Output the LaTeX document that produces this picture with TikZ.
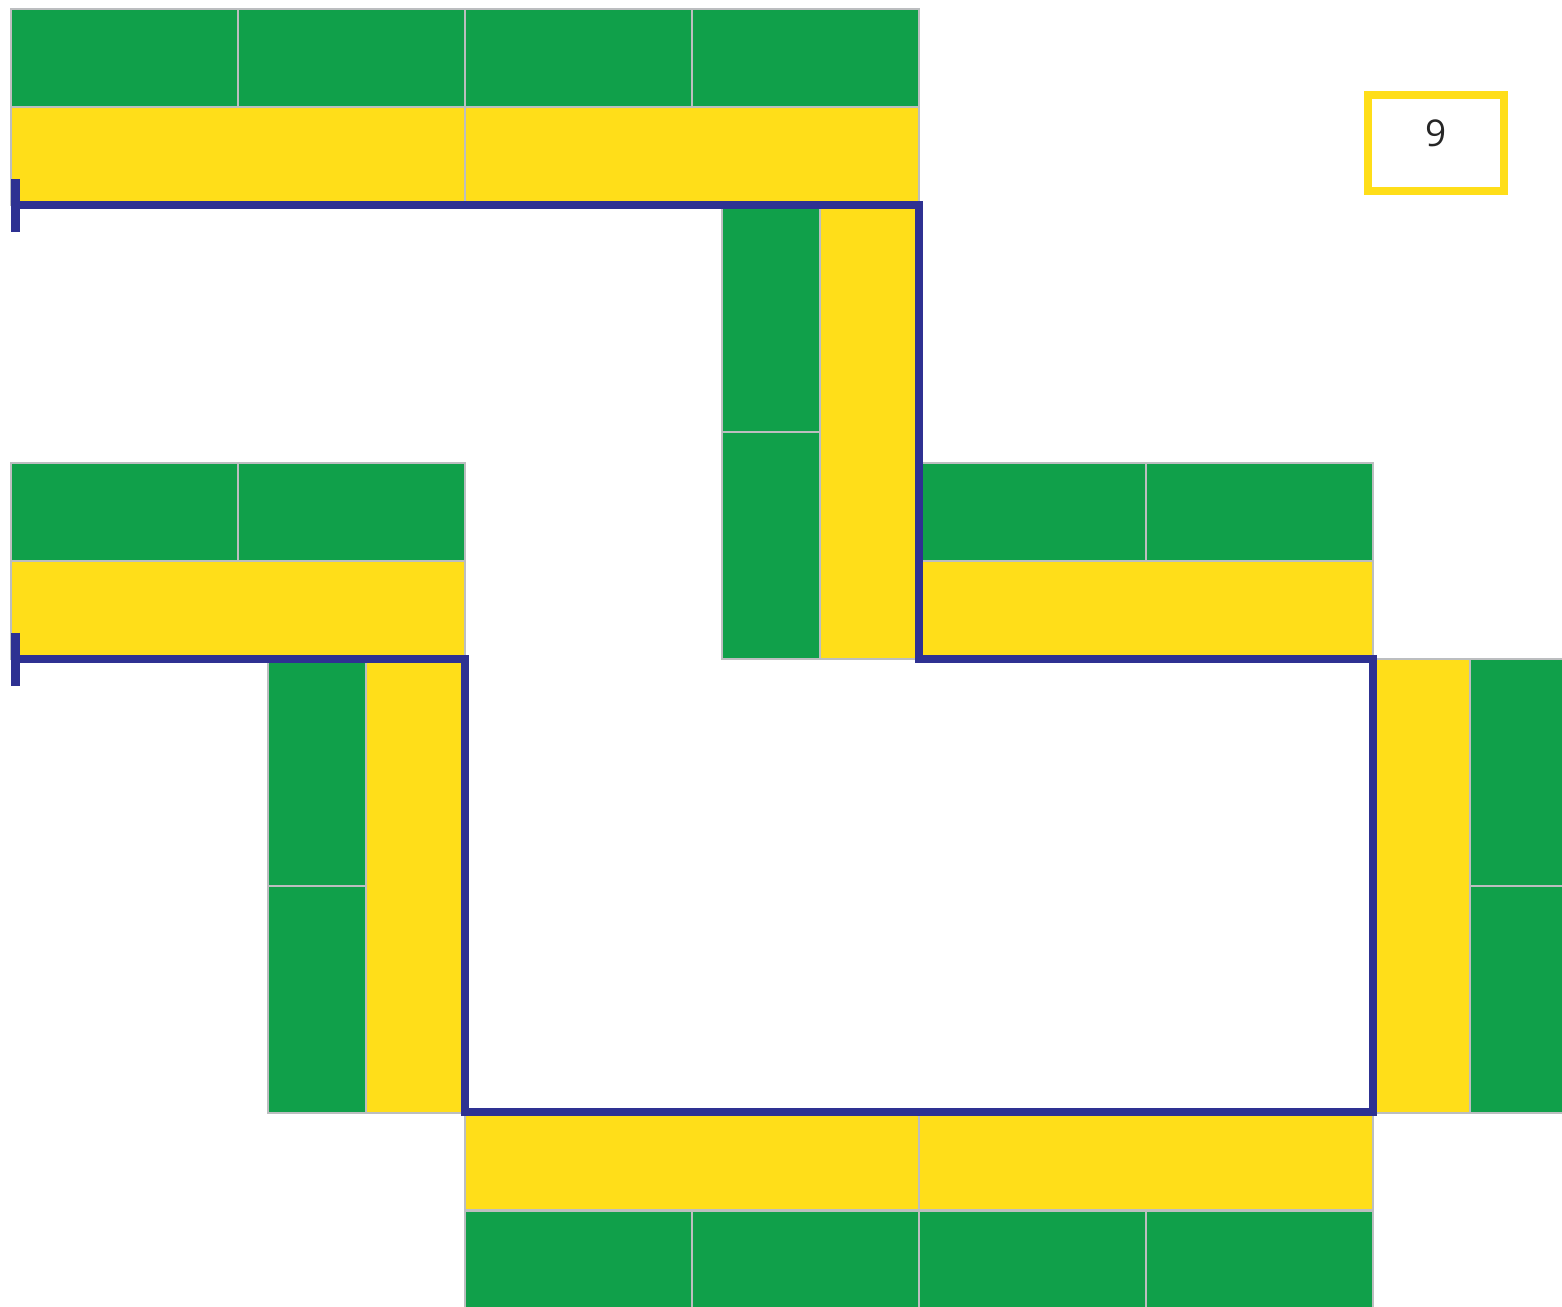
\documentclass[tikz,border=0pt]{standalone}
\usepackage{fontspec}
\setsansfont{Open Sans}
\usepackage{tikz}
\usetikzlibrary{positioning}
\definecolor{brickgreen}{RGB}{16,160,74}
\definecolor{brickyellow}{RGB}{255,222,25}
\definecolor{fenceblue}{RGB}{46,49,146}
\definecolor{mortar}{RGB}{188,190,192}
\tikzset{
	greenbrick/.style={fill=brickgreen, draw=mortar, line width=.8pt},
	yellowbrick/.style={fill=brickyellow, draw=mortar, line width=.8pt},
	fence/.style={draw=fenceblue, line width=2.1pt, line join=miter},
	fencepost/.style={draw=fenceblue, line width=2.6pt},
	scorebox/.style={draw=brickyellow, line width=2.3pt, minimum width=1.36cm, minimum height=.96cm, inner sep=0pt},
	scoretext/.style={font=\sffamily\fontsize{10.5}{12}\selectfont, text=black!85}
}

\begin{document}
\begin{tikzpicture}[x=.01cm, y=-.01cm]
\useasboundingbox (0,0) rectangle (1562,1307);
% long green bricks, lying
\foreach \x/\y in {11/9, 238/9, 465/9, 692/9, 11/463, 238/463, 919/463, 1146/463, 465/1211, 692/1211, 919/1211, 1146/1211}
  \draw[greenbrick] (\x,\y) rectangle ++(227,98);
% long yellow bricks, lying
\foreach \x/\y in {11/107, 465/107, 11/561, 919/561, 465/1112, 919/1112}
  \draw[yellowbrick] (\x,\y) rectangle ++(454,98);
% standing bricks
\foreach \x/\y in {722/205, 722/432, 268/659, 268/886, 1470/659, 1470/886}
  \draw[greenbrick] (\x,\y) rectangle ++(98,227);
\foreach \x in {820, 366, 1373}
  \draw[yellowbrick] (\x,{\x==820 ? 205 : 659}) rectangle ++(97,454);

% the blue line
\coordinate (top) at (11,205);
\coordinate (c1) at (919,205);
\coordinate (c2) at (919,659);
\coordinate (c3) at (1373,659);
\coordinate (c4) at (1373,1112);
\coordinate (c5) at (465,1112);
\coordinate (c6) at (465,659);
\coordinate (mid) at (11,659);
\draw[fence] (top) -- (c1) -- (c2) -- (c3) -- (c4) -- (c5) -- (c6) -- (mid);
\draw[fencepost] (15.5,179) -- (15.5,232);
\draw[fencepost] (15.5,633) -- (15.5,686);

\node[scorebox] (score) at (1436,143) {};
\node[scoretext] (scorenum) at ([yshift=.1cm]score.center) {9};
\end{tikzpicture}
\end{document}
